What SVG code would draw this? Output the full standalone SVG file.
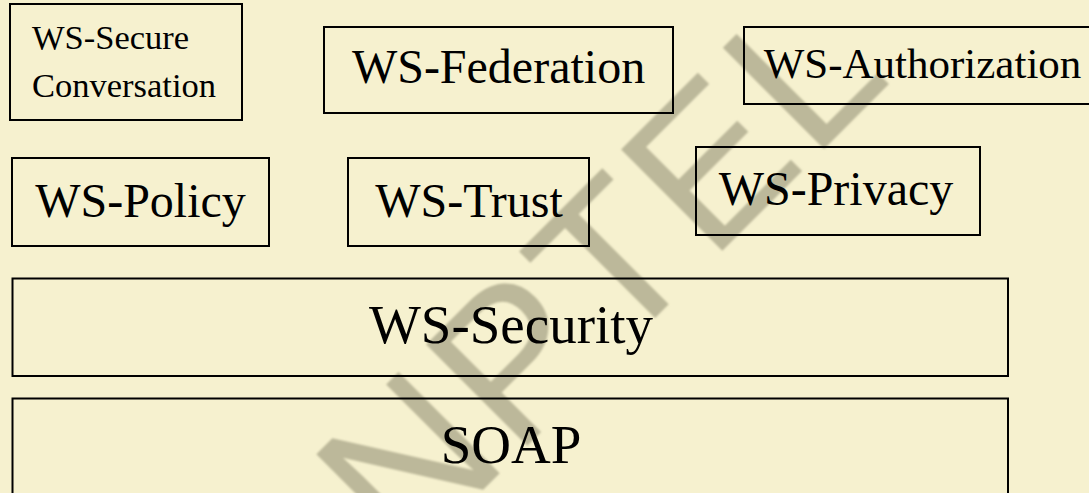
<svg xmlns="http://www.w3.org/2000/svg" width="1089" height="493" viewBox="0 0 1089 493">
<defs>
<style>
.box{fill:none;stroke:#000;stroke-width:2}
.t{font-family:"Liberation Serif","Times New Roman",serif;fill:#000;text-anchor:middle}
.wm{font-family:"Liberation Sans",Arial,sans-serif;fill:#bcb89a}
</style>
<filter id="soft" x="-10%" y="-10%" width="120%" height="120%"><feGaussianBlur stdDeviation="1.2"/></filter>
</defs>
<rect x="0" y="0" width="1089" height="493" fill="#f6f1cf"/>
<g id="watermark" filter="url(#soft)">
<text class="wm" x="0" y="0" font-size="208" letter-spacing="5" transform="translate(405.5,567.5) rotate(-45)">NPTEL</text>
</g>
<g id="connectors"></g>
<g id="ws-secure-conversation">
<rect class="box" x="10" y="4" width="232" height="116"/>
<text class="t" x="32" y="49" font-size="34.5" style="text-anchor:start">WS-Secure</text>
<text class="t" x="32" y="97" font-size="34.5" style="text-anchor:start">Conversation</text>
</g>
<g id="ws-federation">
<rect class="box" x="324" y="27" width="349" height="86"/>
<text class="t" x="498.5" y="83" font-size="48">WS-Federation</text>
</g>
<g id="ws-authorization">
<rect class="box" x="744" y="27" width="360" height="77"/>
<text class="t" x="922.5" y="78" font-size="43">WS-Authorization</text>
</g>
<g id="ws-policy">
<rect class="box" x="12" y="158" width="257" height="88"/>
<text class="t" x="140.5" y="217" font-size="48">WS-Policy</text>
</g>
<g id="ws-trust">
<rect class="box" x="348" y="158" width="241" height="88"/>
<text class="t" x="469" y="217" font-size="48">WS-Trust</text>
</g>
<g id="ws-privacy">
<rect class="box" x="696" y="147" width="284" height="88"/>
<text class="t" x="836" y="205" font-size="48">WS-Privacy</text>
</g>
<g id="ws-security">
<rect class="box" x="12.5" y="278.5" width="995.5" height="97.5"/>
<text class="t" x="511" y="343" font-size="55">WS-Security</text>
</g>
<g id="soap">
<rect class="box" x="12.5" y="398.5" width="995.5" height="120"/>
<text class="t" x="511" y="463" font-size="55">SOAP</text>
</g>
</svg>
